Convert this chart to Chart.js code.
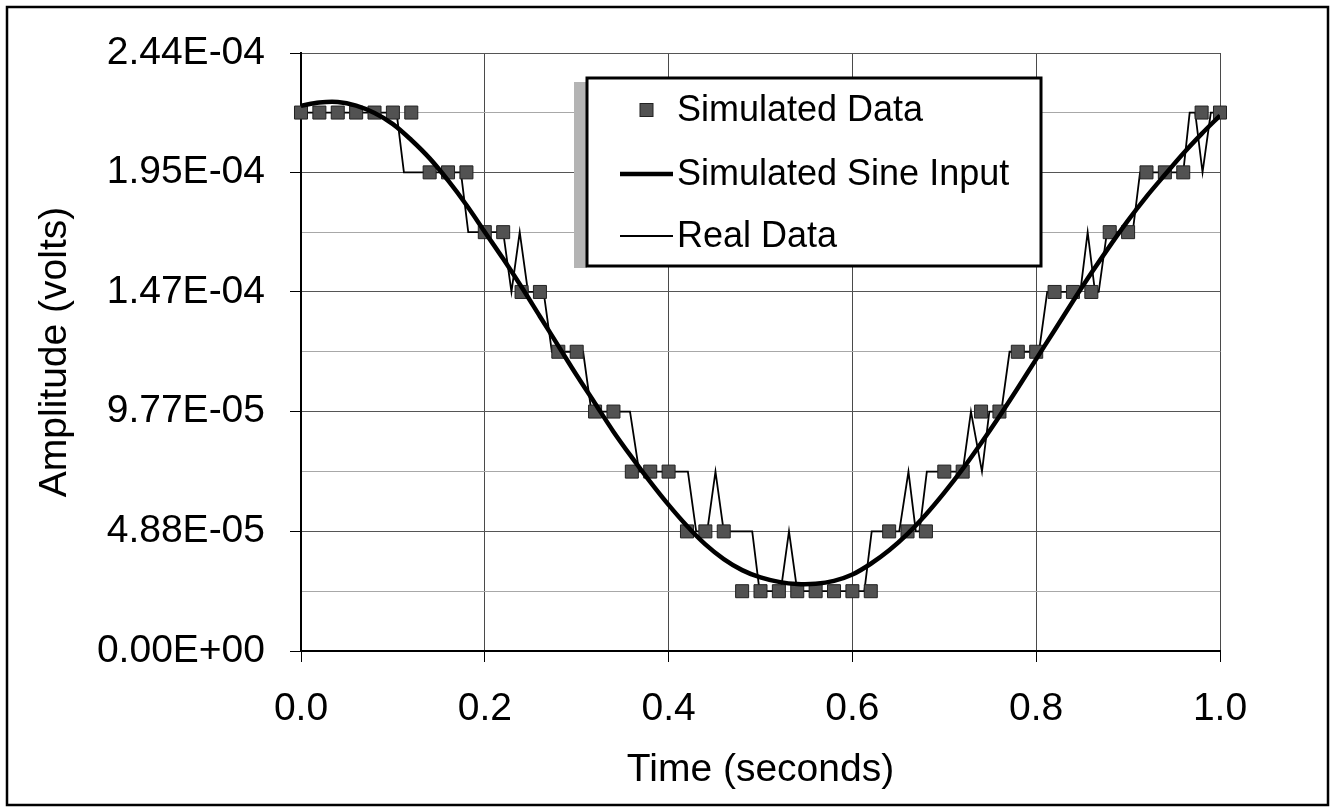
<!DOCTYPE html>
<html>
<head>
<meta charset="utf-8">
<script src="https://cdn.jsdelivr.net/npm/chart.js@4.4.1/dist/chart.umd.min.js"></script>
<style>
  html, body { margin: 0; padding: 0; background: #fff; }
  canvas { display: block; }
</style>
</head>
<body>
<canvas id="chart" width="1333" height="811"></canvas>
<script>
"use strict";

// simulated data, one sample every 0.02 s (quantised levels)
const simTime = [0, 0.02, 0.04, 0.06, 0.08, 0.10, 0.12, 0.14, 0.16, 0.18,
  0.20, 0.22, 0.24, 0.26, 0.28, 0.30, 0.32, 0.34, 0.36, 0.38,
  0.40, 0.42, 0.44, 0.46, 0.48, 0.50, 0.52, 0.54, 0.56, 0.58,
  0.60, 0.62, 0.64, 0.66, 0.68, 0.70, 0.72, 0.74, 0.76, 0.78,
  0.80, 0.82, 0.84, 0.86, 0.88, 0.90, 0.92, 0.94, 0.96, 0.98, 1.00];
const simAmp = [21.97e-5, 21.97e-5, 21.97e-5, 21.97e-5, 21.97e-5, 21.97e-5, 21.97e-5,
  19.53e-5, 19.53e-5, 19.53e-5,
  17.09e-5, 17.09e-5,
  14.65e-5, 14.65e-5,
  12.21e-5, 12.21e-5,
  9.77e-5, 9.77e-5,
  7.32e-5, 7.32e-5, 7.32e-5,
  4.88e-5, 4.88e-5, 4.88e-5,
  2.44e-5, 2.44e-5, 2.44e-5, 2.44e-5, 2.44e-5, 2.44e-5, 2.44e-5, 2.44e-5,
  4.88e-5, 4.88e-5, 4.88e-5,
  7.32e-5, 7.32e-5,
  9.77e-5, 9.77e-5,
  12.21e-5, 12.21e-5,
  14.65e-5, 14.65e-5, 14.65e-5,
  17.09e-5, 17.09e-5,
  19.53e-5, 19.53e-5, 19.53e-5,
  21.97e-5, 21.97e-5];

// simulated sine input, read at the same times
const sineAmp = [22.25e-5, 22.38e-5, 22.40e-5, 22.25e-5, 21.95e-5, 21.50e-5, 20.85e-5, 20.10e-5, 19.20e-5, 18.20e-5,
  17.10e-5, 16.00e-5, 14.85e-5, 13.65e-5, 12.45e-5, 11.25e-5, 10.10e-5, 8.95e-5, 7.90e-5, 6.90e-5,
  5.96e-5, 5.10e-5, 4.35e-5, 3.75e-5, 3.30e-5, 3.00e-5, 2.82e-5, 2.73e-5, 2.74e-5, 2.86e-5,
  3.12e-5, 3.56e-5, 4.11e-5, 4.78e-5, 5.57e-5, 6.46e-5, 7.43e-5, 8.48e-5, 9.58e-5, 10.73e-5,
  11.91e-5, 13.09e-5, 14.27e-5, 15.42e-5, 16.52e-5, 17.57e-5, 18.54e-5, 19.43e-5, 20.30e-5, 21.10e-5, 21.85e-5];

// real data trace
const realTime = [0, 0.104, 0.112, 0.174, 0.182, 0.220, 0.229, 0.238, 0.247, 0.264,
  0.273, 0.307, 0.316, 0.358, 0.368, 0.421, 0.430, 0.442, 0.451, 0.460,
  0.491, 0.499, 0.522, 0.531, 0.540, 0.613, 0.621, 0.651, 0.661, 0.669,
  0.673, 0.681, 0.720, 0.729, 0.741, 0.749, 0.762, 0.771, 0.803, 0.812,
  0.848, 0.856, 0.864, 0.868, 0.877, 0.905, 0.913, 0.960, 0.967, 0.973,
  0.981, 0.990, 1.000];
const realAmp = [21.97e-5, 21.97e-5, 19.53e-5, 19.53e-5, 17.09e-5, 17.09e-5, 14.65e-5, 17.09e-5, 14.65e-5, 14.65e-5,
  12.21e-5, 12.21e-5, 9.77e-5, 9.77e-5, 7.32e-5, 7.32e-5, 4.88e-5, 4.88e-5, 7.32e-5, 4.88e-5,
  4.88e-5, 2.44e-5, 2.44e-5, 4.88e-5, 2.44e-5, 2.44e-5, 4.88e-5, 4.88e-5, 7.32e-5, 4.88e-5,
  4.88e-5, 7.32e-5, 7.32e-5, 9.77e-5, 7.32e-5, 9.77e-5, 9.77e-5, 12.21e-5, 12.21e-5, 14.65e-5,
  14.65e-5, 17.09e-5, 14.65e-5, 14.65e-5, 17.09e-5, 17.09e-5, 19.53e-5, 19.53e-5, 21.97e-5, 21.97e-5,
  19.53e-5, 21.97e-5, 21.97e-5];

const seriesNames = ["Simulated Data", "Simulated Sine Input", "Real Data"];

const xTicks = [0, 0.2, 0.4, 0.6, 0.8, 1.0];
const xTickLabels = ["0.0", "0.2", "0.4", "0.6", "0.8", "1.0"];
const yTicks = [0, 2.44e-5, 4.88e-5, 7.32e-5, 9.77e-5, 12.21e-5, 14.65e-5, 17.09e-5, 19.53e-5, 21.97e-5, 24.4e-5];
const yTickLabels = ["0.00E+00", "", "4.88E-05", "", "9.77E-05", "", "1.47E-04", "", "1.95E-04", "", "2.44E-04"];

const FONT = '"Liberation Sans", Arial, sans-serif';

function pairs(xs, ys) {
  return xs.map((x, i) => ({ x: x, y: ys[i] }));
}

// legend box sitting inside the plot, plus the outer frame
const boxPlugin = {
  id: "boxes",
  afterDraw(chart) {
    const ctx = chart.ctx;
    ctx.save();
    // legend
    ctx.fillStyle = "#b4b4b4";
    ctx.fillRect(574, 82, 13, 186);
    ctx.fillStyle = "#fff";
    ctx.fillRect(587, 78, 454, 188);
    ctx.lineWidth = 3;
    ctx.strokeStyle = "#000";
    ctx.strokeRect(587, 78, 454, 188);

    const rows = [110, 174, 236];
    const sets = chart.data.datasets;
    // square marker
    ctx.fillStyle = sets[0].backgroundColor;
    ctx.strokeStyle = sets[0].borderColor;
    ctx.lineWidth = 1;
    ctx.fillRect(640, rows[0] - 6.5, 13, 13);
    ctx.strokeRect(640, rows[0] - 6.5, 13, 13);
    // sine line
    ctx.strokeStyle = "#000";
    ctx.lineWidth = sets[1].borderWidth;
    ctx.beginPath();
    ctx.moveTo(620, rows[1]);
    ctx.lineTo(673, rows[1]);
    ctx.stroke();
    // real line
    ctx.lineWidth = sets[2].borderWidth;
    ctx.beginPath();
    ctx.moveTo(620, rows[2]);
    ctx.lineTo(673, rows[2]);
    ctx.stroke();

    ctx.fillStyle = "#000";
    ctx.font = "36px " + FONT;
    ctx.textBaseline = "middle";
    ctx.textAlign = "left";
    for (let i = 0; i < sets.length; i++) {
      ctx.fillText(sets[i].label, 677, rows[i] + 1);
    }

    // outer frame
    ctx.lineWidth = 2.5;
    ctx.strokeStyle = "#000";
    ctx.strokeRect(7, 7, 1321, 798);
    ctx.restore();
  }
};

function renderChart() {
  const canvasElem = document.getElementById("chart");

  const chartObj = {
    type: "line",
    data: {
      datasets: [
        {
          label: seriesNames[0],
          data: pairs(simTime, simAmp),
          showLine: false,
          pointStyle: "rect",
          pointRadius: 9.2,
          backgroundColor: "#525252",
          borderColor: "#222",
          borderWidth: 1,
          clip: false,
          order: 1,
        },
        {
          label: seriesNames[1],
          data: pairs(simTime, sineAmp),
          borderColor: "#000",
          borderWidth: 4.5,
          pointRadius: 0,
          tension: 0.35,
          fill: false,
          order: 0,
        },
        {
          label: seriesNames[2],
          data: pairs(realTime, realAmp),
          borderColor: "#000",
          borderWidth: 1.8,
          pointRadius: 0,
          tension: 0,
          fill: false,
          order: 2,
        },
      ],
    },
    options: {
      responsive: false,
      animation: false,
      devicePixelRatio: 1,
      layout: { padding: { left: 8, right: 113, top: 53, bottom: 8 } },
      plugins: {
        legend: { display: false },
        tooltip: { enabled: false },
      },
      scales: {
        x: {
          type: "linear",
          min: 0,
          max: 1,
          afterBuildTicks: (s) => { s.ticks = xTicks.map((v) => ({ value: v })); },
          afterFit: (s) => { s.height = 152; },
          ticks: {
            autoSkip: false,
            maxRotation: 0,
            padding: 24,
            color: "#000",
            font: { family: FONT, size: 39 },
            callback: (v, i) => xTickLabels[i],
          },
          grid: { color: "#4a4a4a", lineWidth: 1, tickLength: 11, tickColor: "#000" },
          border: { color: "#000", width: 2 },
          title: {
            display: true,
            text: "Time (seconds)",
            color: "#000",
            font: { family: FONT, size: 39 },
            padding: { top: 0, bottom: 9 },
          },
        },
        y: {
          type: "linear",
          min: 0,
          max: 24.4e-5,
          afterBuildTicks: (s) => { s.ticks = yTicks.map((v) => ({ value: v })); },
          afterFit: (s) => { s.width = 293; },
          ticks: {
            autoSkip: false,
            padding: 25,
            color: "#000",
            font: { family: FONT, size: 39 },
            callback: (v, i) => yTickLabels[i],
          },
          grid: {
            color: (c) => (c.index % 2 === 0 ? "#555" : "#a8a8a8"),
            lineWidth: 1,
            tickLength: 11,
            tickColor: (c) => (c.index % 2 === 0 ? "#000" : "rgba(0,0,0,0)"),
          },
          border: { color: "#000", width: 2 },
          title: {
            display: true,
            text: "Amplitude (volts)",
            color: "#000",
            font: { family: FONT, size: 39 },
            padding: { top: 24, bottom: 0 },
          },
        },
      },
    },
    plugins: [boxPlugin],
  };
  new Chart(canvasElem, chartObj);
}

renderChart();
</script>
</body>
</html>
